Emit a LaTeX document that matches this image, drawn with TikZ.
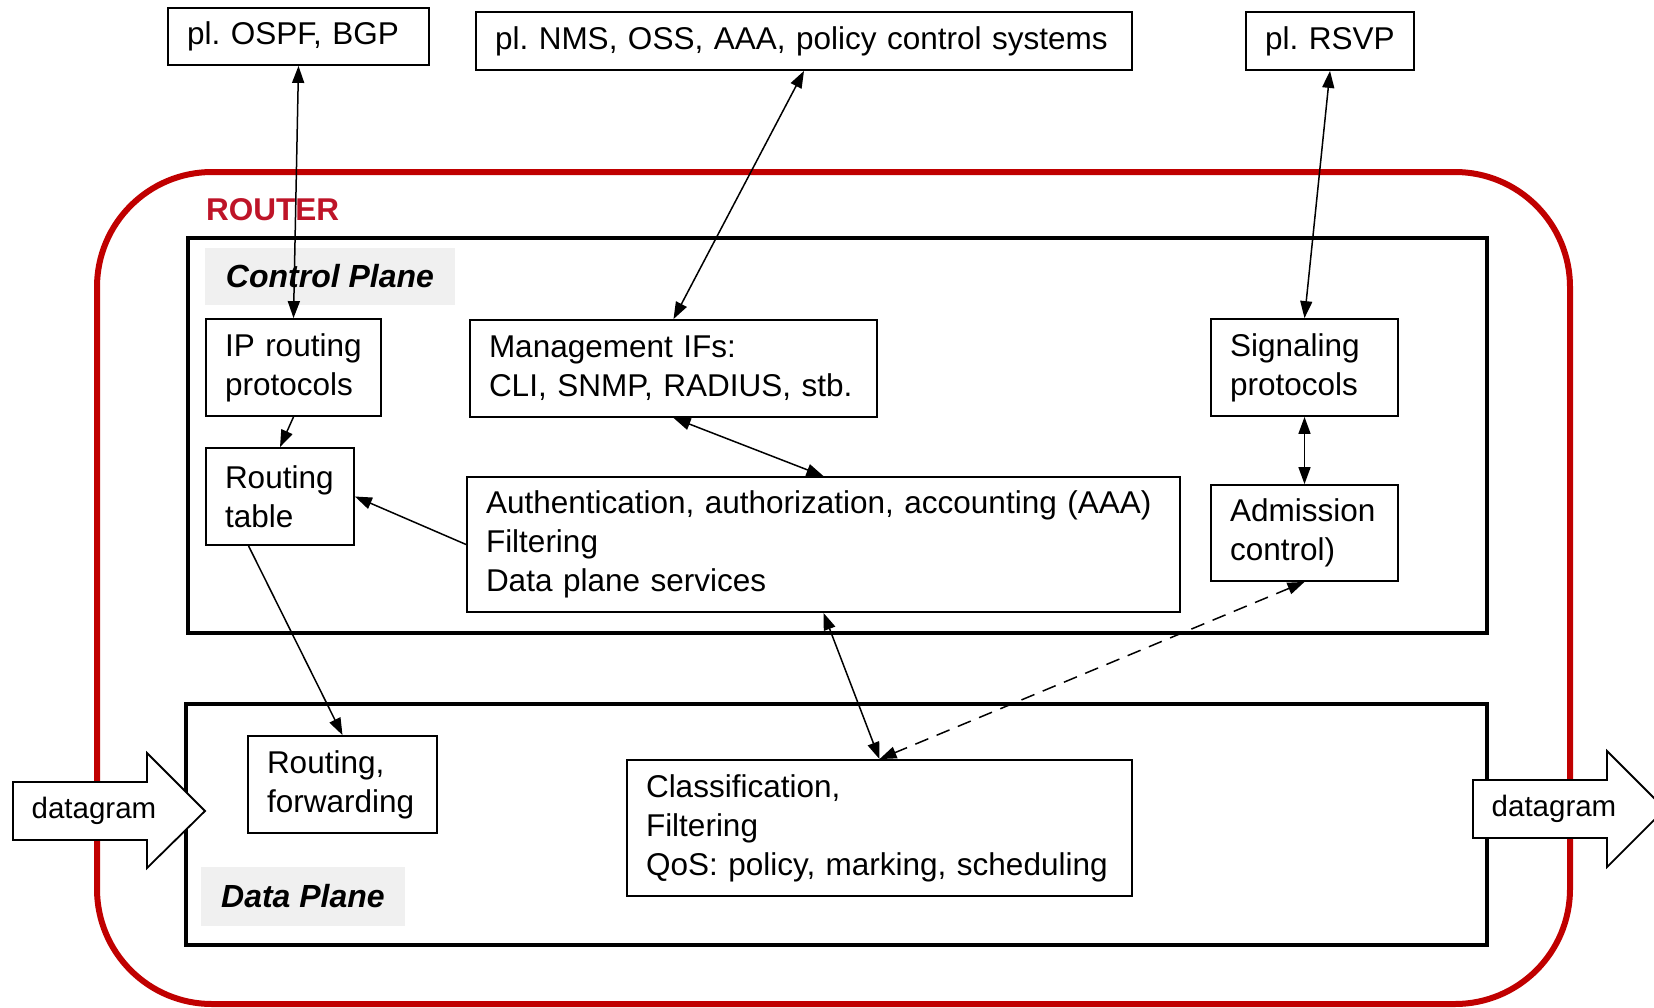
\documentclass[tikz,border=0pt]{standalone}
\usepackage{fontspec}
\setmainfont{Liberation Sans}
\usetikzlibrary{arrows.meta,calc}
\frenchspacing
\definecolor{routerred}{RGB}{192,0,0}
\definecolor{routertext}{RGB}{190,20,40}
\definecolor{labelgray}{RGB}{240,240,240}
\begin{document}
\begin{tikzpicture}[x=1pt,y=-1pt,
  every node/.style={font=\fontsize{31.5}{39}\selectfont},
  box/.style={draw,line width=1.8pt,fill=white,align=left,inner xsep=19pt,inner ysep=0pt,anchor=center},
  plane/.style={draw,line width=3.5pt},
  planelabel/.style={fill=labelgray,inner sep=0pt,font=\fontsize{32}{39}\selectfont\bfseries\itshape},
  link/.style={line width=1.5pt,{Triangle[length=17pt,width=12pt]}-{Triangle[length=17pt,width=12pt]}},
  onelink/.style={line width=1.5pt,-{Triangle[length=17pt,width=12pt]}},
  bigarrow/.style={draw,line width=1.8pt,fill=white},
  arrowtext/.style={inner sep=0pt,font=\fontsize{29.5}{36}\selectfont}
]
\useasboundingbox (0,0) rectangle (1654,1007);

% router outline
\draw[routerred,line width=6pt,rounded corners=115pt] (97,172) rectangle (1570,1004);
\node[anchor=west,inner sep=0pt,text=routertext,font=\fontsize{31.5}{39}\selectfont\bfseries] (router) at (206,210) {ROUTER};

% control and data planes
\draw[plane] (188,238) rectangle (1487,633);
\draw[plane] (186,704) rectangle (1487,945);
\node[planelabel,minimum width=250pt,minimum height=57pt] (cplabel) at (330,276.5) {Control Plane};
\node[planelabel,minimum width=204pt,minimum height=59pt] (dplabel) at (303,896.5) {Data Plane};

% external systems
\node[box,minimum width=261pt,minimum height=57pt,text width=223pt] (ospf) at (298.5,36.5) {pl. OSPF, BGP};
\node[box,minimum width=656pt,minimum height=58pt,text width=618pt] (nms) at (804,41) {pl. NMS, OSS, AAA, policy control systems};
\node[box,minimum width=168pt,minimum height=58pt,text width=130pt] (rsvp) at (1330,41) {pl. RSVP};

% control plane blocks
\node[box,minimum width=175pt,minimum height=97pt,text width=137pt] (iprp) at (293.5,367.5) {IP routing\\protocols};
\node[box,minimum width=148pt,minimum height=97pt,text width=110pt] (rtab) at (280,496.5) {Routing\\table};
\node[box,minimum width=407pt,minimum height=97pt,text width=369pt] (mgmt) at (673.5,368.5) {Management IFs:\\CLI, SNMP, RADIUS, stb.};
\node[box,minimum width=713pt,minimum height=135pt,text width=675pt] (aaa) at (823.5,544.5) {Authentication, authorization, accounting (AAA)\\Filtering\\Data plane services};
\node[box,minimum width=187pt,minimum height=97pt,text width=149pt] (sig) at (1304.5,367.5) {Signaling\\protocols};
\node[box,minimum width=187pt,minimum height=96pt,text width=149pt] (adm) at (1304.5,533) {Admission\\control)};

% data plane blocks
\node[box,minimum width=189pt,minimum height=97pt,text width=151pt] (fwd) at (342.5,784.5) {Routing,\\forwarding};
\node[box,minimum width=505pt,minimum height=136pt,text width=467pt] (cls) at (879.5,828) {Classification,\\Filtering\\QoS: policy, marking, scheduling};

% connectors
\draw[link] (ospf.south) -- (iprp.north);
\draw[link] (nms.south) -- (mgmt.north);
\draw[link] (rsvp.south) -- (sig.north);
\draw[onelink] (iprp.south) -- (rtab.north);
\draw[onelink] (aaa.west) -- (rtab.east);
\draw[link] (mgmt.south) -- (aaa.north);
\draw[link] (sig.south) -- (adm.north);
\draw[onelink] ($(rtab.south west)!0.29!(rtab.south east)$) -- (fwd.north);
\draw[link] (aaa.south) -- (cls.north);
\draw[link,dash pattern=on 14pt off 9pt] (adm.south) -- (cls.north);

% datagram in / out
\draw[bigarrow] (13,782) -- (147,782) -- (147,753) -- (205,811) -- (147,868) -- (147,840) -- (13,840) -- cycle;
\node[arrowtext] (dgin) at (94,811) {datagram};
\draw[bigarrow] (1473,780) -- (1607,780) -- (1607,751) -- (1665,809) -- (1607,867) -- (1607,838) -- (1473,838) -- cycle;
\node[arrowtext] (dgout) at (1554,809) {datagram};
\end{tikzpicture}
\end{document}
